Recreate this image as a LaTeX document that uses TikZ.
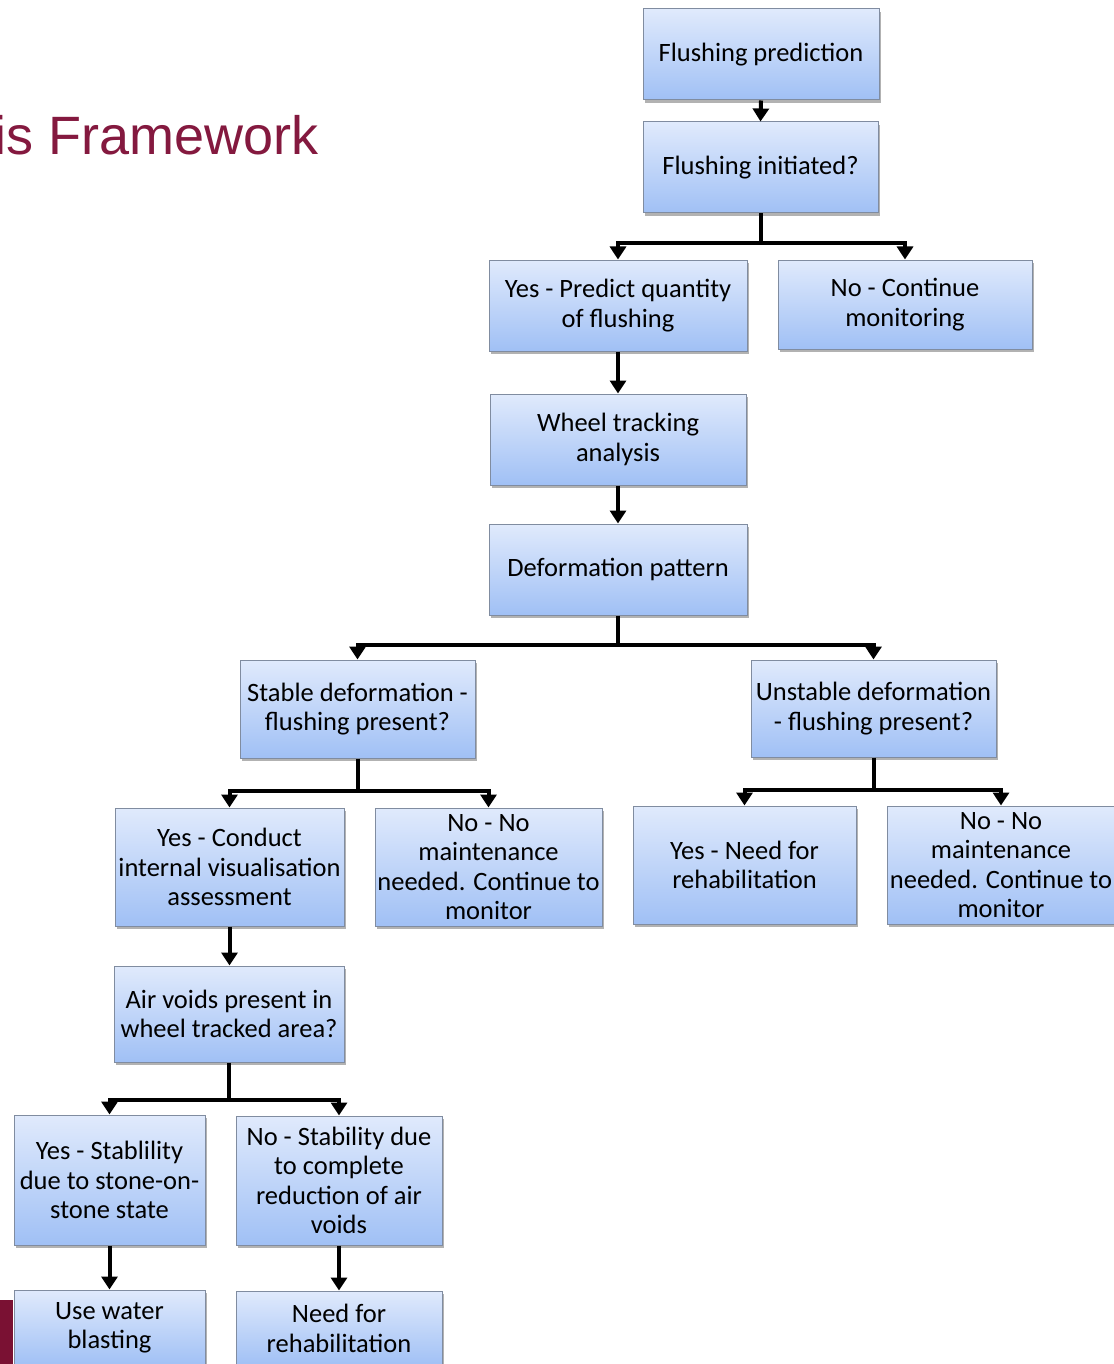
\documentclass[tikz,border=0pt]{standalone}
\usepackage{fontspec}
\setmainfont{Carlito}
\newfontfamily\arialfont{Liberation Sans}
\usetikzlibrary{arrows.meta,shadows}
\definecolor{boxtop}{RGB}{224,234,252}
\definecolor{boxbot}{RGB}{160,192,245}
\definecolor{boxline}{RGB}{128,140,160}
\definecolor{titlered}{RGB}{132,25,63}
\definecolor{barred}{RGB}{122,17,51}
\tikzset{
  fbox/.style={rectangle, draw=boxline, line width=1pt, top color=boxtop, bottom color=boxbot,
    drop shadow={shadow xshift=2pt, shadow yshift=-3pt, opacity=0.3, fill=black},
    align=center, inner sep=0pt, font=\fontsize{26.5}{29.3}\selectfont, text=black},
  conn/.style={line width=4pt, -{Triangle[width=16pt,length=13pt]}},
  plain/.style={line width=4pt}
}
\newcommand{\fb}[6]{% name, x1, y1, x2, y2, text
  \node[fbox, minimum width={(#4-#2)*1pt}, minimum height={(#5-#3)*1pt}] (#1) at ({(#2+#4)/2},{(#3+#5)/2}) {#6};}
\begin{document}
\begin{tikzpicture}[x=1pt,y=-1pt]
\fill[white] (0,0) rectangle (1113,1364);
\useasboundingbox (0,0) rectangle (1113,1364);
\node[font=\arialfont\fontsize{54}{60}\selectfont, text=titlered, anchor=base east, inner sep=0pt] (title) at (319,155) {is Framework};
\fill[barred] (0,1300) rectangle (13,1364);

\fb{fp}{643}{9}{879}{100}{Flushing prediction}
\fb{fi}{643}{122}{878}{213}{Flushing initiated?}
\fb{yp}{489}{260}{747}{351}{Yes - Predict quantity\\of flushing}
\fb{nc}{778}{260}{1032}{349}{No - Continue\\monitoring}
\fb{wt}{490}{394}{746}{485}{Wheel tracking\\analysis}
\fb{dp}{489}{524}{747}{615}{Deformation pattern}
\fb{sd}{240}{660}{475}{758}{Stable deformation -\\flushing present?}
\fb{ud}{751}{660}{996}{757}{Unstable deformation\\- flushing present?}
\fb{yc}{115}{808}{344}{926}{Yes - Conduct\\internal visualisation\\assessment}
\fb{nn}{375}{808}{602}{926}{No - No\\maintenance\\needed. Continue to\\monitor}
\fb{yr}{633}{806}{856}{924}{Yes - Need for\\rehabilitation}
\fb{nr}{887}{806}{1115}{924}{No - No\\maintenance\\needed. Continue to\\monitor}
\fb{av}{114}{966}{344}{1062}{Air voids present in\\wheel tracked area?}
\fb{ys}{14}{1115}{205}{1245}{Yes - Stablility\\due to stone-on-\\stone state}
\fb{ns}{236}{1116}{442}{1245}{No - Stability due\\to complete\\reduction of air\\voids}
\fb{uw}{14}{1290}{205}{1366}{Use water\\blasting}
\fb{nh}{236}{1291}{442}{1366}{Need for\\rehabilitation}

\draw[conn] (fp.south) -- (fi.north);
\draw[plain] (fi.south) -- ++(0,30) coordinate (b1);
\draw[conn] (b1) -| (yp.north);
\draw[conn] (b1) -| (nc.north);
\draw[conn] (yp.south) -- (wt.north);
\draw[conn] (wt.south) -- (dp.north);
\draw[plain] (dp.south) -- ++(0,29) coordinate (b2);
\draw[conn] (b2) -| (sd.north);
\draw[conn] (b2) -| (ud.north);
\draw[plain] (sd.south) -- ++(0,32) coordinate (b3);
\draw[conn] (b3) -| (yc.north);
\draw[conn] (b3) -| (nn.north);
\draw[plain] (ud.south) -- ++(0,32) coordinate (b4);
\draw[conn] (b4) -| (yr.north);
\draw[conn] (b4) -| (nr.north);
\draw[conn] (yc.south) -- (yc.south |- av.north);
\draw[plain] (av.south) -- ++(0,37) coordinate (b5);
\draw[conn] (b5) -| (ys.north);
\draw[conn] (b5) -| (ns.north);
\draw[conn] (ys.south) -- (uw.north);
\draw[conn] (ns.south) -- (nh.north);
\end{tikzpicture}
\end{document}
